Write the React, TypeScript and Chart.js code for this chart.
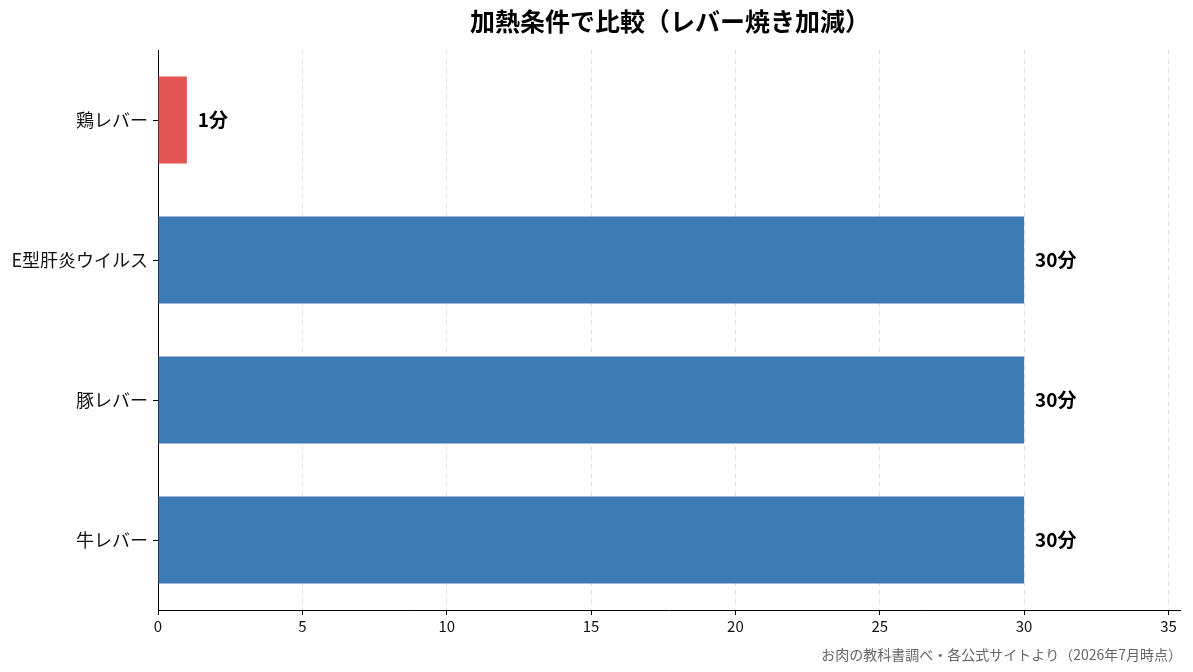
import React, { useEffect, useRef } from "react";
import { Chart, registerables } from "chart.js";

Chart.register(...registerables);

const categories = ["鶏レバー", "E型肝炎ウイルス", "豚レバー", "牛レバー"];
const minutes = [1, 30, 30, 30];
const barColors = ["#E45454", "#3E7AB6", "#3E7AB6", "#3E7AB6"];
const valueLabels = ["1分", "30分", "30分", "30分"];
const xTicks = [0, 5, 10, 15, 20, 25, 30, 35];
const titleText = "加熱条件で比較（レバー焼き加減）";
const footerText = "お肉の教科書調べ・各公式サイトより（2026年7月時点）";

const FONT = "'Noto Sans CJK JP', 'Noto Sans', sans-serif";

export default function App() {
  const ref = useRef<HTMLCanvasElement | null>(null);

  useEffect(() => {
    document.body.style.margin = "0";
    const canvas = ref.current;
    if (!canvas) return;

    const labelPlugin = {
      id: "extras",
      afterDatasetsDraw(chart: any) {
        const ctx = chart.ctx;
        const meta = chart.getDatasetMeta(0);
        ctx.save();
        ctx.font = `bold 19px ${FONT}`;
        ctx.fillStyle = "#000";
        ctx.textAlign = "left";
        ctx.textBaseline = "middle";
        meta.data.forEach((bar: any, i: number) => {
          ctx.fillText(valueLabels[i], bar.x + 11, bar.y);
        });
        ctx.restore();
      },
      afterDraw(chart: any) {
        const ctx = chart.ctx;
        ctx.save();
        ctx.fillStyle = "#000";
        ctx.font = `bold 25px ${FONT}`;
        ctx.textAlign = "center";
        ctx.textBaseline = "middle";
        ctx.fillText(titleText, 670, 21);
        ctx.font = `14px ${FONT}`;
        ctx.fillStyle = "#666";
        ctx.textAlign = "right";
        ctx.fillText(footerText, 1182, 655);
        ctx.restore();
      },
    };

    const chart = new Chart(canvas, {
      type: "bar",
      data: {
        labels: categories,
        datasets: [
          {
            data: minutes,
            backgroundColor: barColors,
            borderWidth: 0,
            categoryPercentage: 1,
            barPercentage: 0.62,
          },
        ],
      },
      options: {
        indexAxis: "y",
        animation: false,
        responsive: false,
        maintainAspectRatio: false,
        devicePixelRatio: 1,
        layout: { padding: { left: 0, right: 13, top: 50, bottom: 0 } },
        plugins: {
          legend: { display: false },
          tooltip: { enabled: false },
          title: { display: false },
        },
        scales: {
          x: {
            type: "linear",
            min: 0,
            max: 35.4,
            afterBuildTicks: (scale: any) => {
              scale.ticks = xTicks.map((v) => ({ value: v }));
            },
            afterFit: (scale: any) => {
              scale.height = 62;
            },
            ticks: {
              font: { family: FONT, size: 15 },
              color: "#111",
              padding: 2,
              maxRotation: 0,
              autoSkip: false,
            },
            grid: {
              display: true,
              drawOnChartArea: true,
              color: "#e3e3e3",
              borderDash: [5, 4],
              tickBorderDash: [],
              tickColor: "#000",
              tickLength: 5,
              lineWidth: 1,
            } as any,
            border: { display: true, color: "#000", width: 1, dash: [5, 4] } as any,
          },
          y: {
            afterFit: (scale: any) => {
              scale.width = 158;
            },
            ticks: {
              font: { family: FONT, size: 18 },
              color: "#111",
              padding: 5,
            },
            grid: {
              display: true,
              offset: false,
              drawOnChartArea: false,
              tickColor: "#000",
              tickLength: 5,
            },
            border: { display: true, color: "#000", width: 1 },
          },
        },
      },
      plugins: [labelPlugin],
    } as any);

    return () => chart.destroy();
  }, []);

  return (
    <div style={{ width: 1193, height: 672 }}>
      <canvas ref={ref} width={1193} height={672} style={{ display: "block", width: 1193, height: 672 }} />
    </div>
  );
}
